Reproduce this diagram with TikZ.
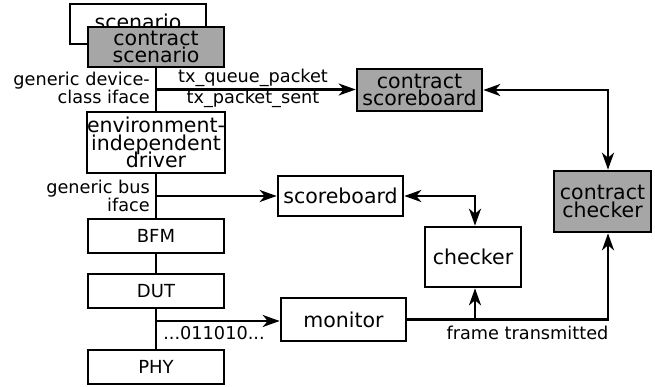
\documentclass[tikz,border=0pt]{standalone}
\usepackage{fontspec}
\setmainfont{DejaVu Sans}
\usetikzlibrary{arrows.meta}
\setlength\lineskiplimit{-50pt}
\definecolor{boxgray}{HTML}{A6A6A6}
\begin{document}
\begin{tikzpicture}[x=1pt,y=-1pt,
  box/.style={draw=black, line width=2.6pt, fill=white, inner sep=0pt, align=center,
    font=\fontsize{20.5}{17.5}\selectfont},
  graybox/.style={box, fill=boxgray},
  smallbox/.style={box, minimum width=136pt, minimum height=34pt, font=\fontsize{18}{18}\selectfont},
  lbl/.style={inner sep=0pt, font=\fontsize{17.7}{18}\selectfont},
  conn/.style={line width=2.4pt},
  tip/.style={},
  arr/.style={conn, -{Stealth[length=17pt, width=12pt, inset=5pt]}},
  darr/.style={conn, {Stealth[length=17pt, width=12pt, inset=5pt]}-{Stealth[length=17pt, width=12pt, inset=5pt]}}
]
\useasboundingbox (0,0) rectangle (655,387);

% boxes
\node[box, minimum width=136pt, minimum height=40pt] (scen) at (138,24) {\raisebox{4pt}{scenario}};
\node[graybox, minimum width=136pt, minimum height=40pt] (cscen) at (156,47) {contract\\scenario};
\node[box, minimum width=136pt, minimum height=61pt] (drv) at (156,142.5) {environment-\\independent\\driver};
\node[smallbox] (bfm) at (156,236) {BFM};
\node[smallbox] (dut) at (156,291) {DUT};
\node[smallbox] (phy) at (156,367) {PHY};
\node[graybox, minimum width=125pt, minimum height=42pt] (csb) at (419.5,90) {contract\\scoreboard};
\node[box, minimum width=125pt, minimum height=40pt] (sb) at (340.5,196) {scoreboard};
\node[box, minimum width=96pt, minimum height=60pt] (chk) at (473,257) {checker};
\node[graybox, minimum width=97pt, minimum height=61pt] (cchk) at (602.5,201.5) {contract\\checker};
\node[box, minimum width=125pt, minimum height=43pt] (mon) at (343.5,319.5) {monitor};

% coordinates
\coordinate (j1) at (156,89.5);
\coordinate (j2) at (156,196);
\coordinate (j3) at (156,321);
\coordinate (c1) at (608,90);
\coordinate (c2) at (475,196);
\coordinate (m1) at (475,319.5);
\coordinate (m2) at (608,319.5);

% vertical stack
\draw[conn] (cscen.south) -- (drv.north);
\draw[conn] (drv.south) -- (bfm.north);
\draw[conn] (bfm.south) -- (dut.north);
\draw[conn] (dut.south) -- (phy.north);

% horizontal arrows
\draw[arr] (j1) -- (csb.west |- j1);
\draw[arr] (j2) -- (sb.west);
\draw[arr] (j3) -- (mon.west |- j3);

% right side
\draw[darr] (csb.east) -- (c1) -- (cchk.north -| c1);
\draw[darr] (sb.east) -- (c2) -- (chk.north -| c2);
\draw[conn] (mon.east) -- (m1);
\draw[arr] (m1) -- (m2) -- (cchk.south -| m2);
\draw[arr] (m1) -- (chk.south -| m1);

% labels
\node[lbl, anchor=east, align=right] (l1) at (150,88) {generic device-\\class iface};
\node[lbl] (l2) at (253,78) {tx\_queue\_packet};
\node[lbl] (l3) at (253,99) {tx\_packet\_sent};
\node[lbl, anchor=east, align=right] (l4) at (150,196) {generic bus\\iface};
\node[lbl] (l5) at (214,333) {...011010...};
\node[lbl] (l6) at (527.5,333) {frame transmitted};
\end{tikzpicture}
\end{document}
